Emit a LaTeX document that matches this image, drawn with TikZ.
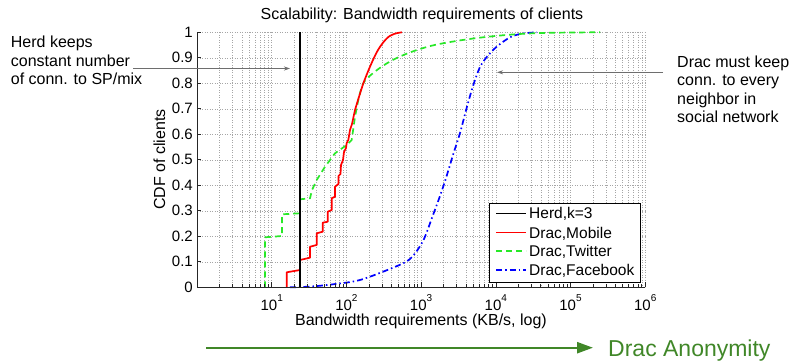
\documentclass[tikz,border=0pt]{standalone}
\usepackage{fontspec}
\setmainfont{Liberation Sans}
\usetikzlibrary{arrows.meta}
\definecolor{mgreen}{RGB}{40,232,40}
\definecolor{annogreen}{RGB}{64,135,40}
\definecolor{arrowgray}{RGB}{110,110,110}
\tikzset{
 gridline/.style={draw=gray!70, line width=0.5pt, dash pattern=on 0.6pt off 1.9pt},
 curve/.style={line width=1.7pt, line join=round},
 herdline/.style={curve, black},
 mobileline/.style={curve, red},
 twitterline/.style={curve, mgreen, dash pattern=on 6pt off 4pt},
 facebookline/.style={curve, blue, dash pattern=on 6pt off 3pt on 1.5pt off 3pt},
 legline/.style={line width=1.3pt},
 ticklab/.style={font=\fontsize{15}{18}\selectfont, inner sep=0},
 plotlab/.style={font=\fontsize{16}{19}\selectfont, inner sep=0},
 leglab/.style={font=\fontsize{15.5}{18}\selectfont, inner sep=0, anchor=base west},
 anno/.style={font=\fontsize{16}{18.7}\selectfont, align=left, inner sep=0, anchor=north west},
 pointer/.style={draw=arrowgray, line width=0.9pt, -{Stealth[length=6pt,width=4pt]}},
 axisline/.style={draw=black!85, line width=0.9pt},
}
\begin{document}
\begin{tikzpicture}[x=1pt,y=-1pt]
\useasboundingbox (0,0) rectangle (792,363);
% grid
\foreach \v in {1,...,10}
  \draw[gridline] (197,{287.3-25.5*\v}) -- (645,{287.3-25.5*\v});
\foreach \d in {0,...,5}
  \foreach \k in {1,...,9}
    \draw[gridline] ({197+74.7*(\d+log10(\k))},32.3) -- ++(0,255);
\draw[gridline] (645,32.3) -- (645,287.3);
% curves
\draw[facebookline] plot[smooth, tension=0.5] coordinates {(290,287.3) (310,286.6) (333,284.3) (360,280) (393,267.7) (410,259) (423,241) (433,215) (440,196) (446,178) (453,155) (460,133) (468,103) (474,83) (480,67) (487,56.7) (496.7,46.7) (510,37.3) (522,33.6) (537,32.3)};
\draw[twitterline] (265,287.3) -- (265,237.3) -- (282,236) -- (282,214.3) -- (300,213.3) -- (300,199.3) -- (310,198.3) -- (312,190) -- (316.7,180) -- (325,166.7) -- (335,153.3) -- (346.7,145) -- (351.7,140) -- (355,116.7)
  -- plot[smooth, tension=0.6] coordinates {(358.3,100) (363.3,83.3) (372,74) (385,64.5) (400,56.5) (420,49) (443,43.3) (483,37.3) (533,33.3) (600,32.3)};
\draw[mobileline] (286.7,287.3) -- (286.7,272.3) -- (300,270) -- (300,260) -- (310,257.7) -- (310,246.7) -- (316.7,245) -- (316.7,233.3) -- (322.7,231.7) -- (322.7,222.7) -- (327.7,221.7) -- (327.7,211.7) -- (331.7,210) -- (331.7,198.3) -- (335,196.7) -- (335,186.7) -- (338.5,184) -- (338.5,176) -- (340.5,174) -- (341,165) -- (343,160) -- (344,152) -- (346,148) -- (346.7,143) -- (348.3,140) -- (350,130) -- (352,124) -- (355,110) -- (358,100) -- (360.5,92)
  -- plot[smooth, tension=0.6] coordinates {(363.3,83.3) (370,66.7) (378,50) (386.7,38.5) (394,34) (402,32.3)};
\draw[herdline] (300,287.3) -- (300,32.3);
% axes
\draw[axisline] (197,32.3) -- (197,287.3) -- (645,287.3);
\foreach \v/\l in {0/0,1/0.1,2/0.2,3/0.3,4/0.4,5/0.5,6/0.6,7/0.7,8/0.8,9/0.9,10/1} {
  \draw[axisline, line width=0.6pt] (197,{287.3-25.5*\v}) -- ++(4,0);
  \node[ticklab, anchor=east] (yl\v) at (193,{287.3-25.5*\v}) {\l};
}
\foreach \d in {0,...,5}
  \foreach \k in {2,...,9}
    \draw[axisline, line width=0.6pt] ({197+74.7*(\d+log10(\k))},287.3) -- ++(0,-3);
\foreach \d in {0,...,6}
  \draw[axisline, line width=0.6pt] ({197+74.7*\d},287.3) -- ++(0,-5);
\foreach \d in {1,...,6}
  \node[ticklab, anchor=base] (xl\d) at ({197+74.7*\d},310) {10\raisebox{9pt}{\fontsize{10}{12}\selectfont\d}};
\node[plotlab, anchor=base] (title) at (422,20) {Scalability: Bandwidth requirements of clients};
\node[plotlab, anchor=base] (xlabel) at (421,325.5) {Bandwidth requirements (KB/s, log)};
\node[plotlab, anchor=base, rotate=90] (ylabel) at (165,159.6) {CDF of clients};
% legend
\node[draw=black, line width=0.8pt, fill=white, minimum width=150.7pt, minimum height=79pt, inner sep=0, anchor=north west] (legend) at (489.3,202.7) {};
\draw[legline, black] (496,213.3) -- (526,213.3);
\node[leglab] (lg1) at (529,218.9) {Herd,k=3};
\draw[legline, red] (496,232.7) -- (526,232.7);
\node[leglab] (lg2) at (529,238.3) {Drac,Mobile};
\draw[legline, mgreen, dash pattern=on 6pt off 4pt] (496,251) -- (526,251);
\node[leglab] (lg3) at (529,256.6) {Drac,Twitter};
\draw[legline, blue, dash pattern=on 6pt off 3pt on 1.5pt off 3pt] (496,270) -- (526,270);
\node[leglab] (lg4) at (529,275.6) {Drac,Facebook};
% annotations
\node[anno] (herdtext) at (10.7,35.8) {Herd keeps\\constant number\\of conn. to SP/mix};
\coordinate (herdstart) at (133,68.5);
\coordinate (herdtip) at (290,68.5);
\draw[pointer] (herdstart) -- (herdtip);
\node[anno, font=\fontsize{16}{18.3}\selectfont] (dractext) at (677,55.8) {Drac must keep\\conn. to every\\neighbor in\\social network};
\coordinate (dracstart) at (663,72.3);
\coordinate (dractip) at (497,72.3);
\draw[pointer] (dracstart) -- (dractip);
% bottom arrow
\coordinate (gstart) at (206,347.7);
\coordinate (gtip) at (593,347.7);
\draw[draw=annogreen, line width=2.4pt, -{Triangle[length=16pt,width=11pt]}] (gstart) -- (gtip);
\node[font=\fontsize{23}{27}\selectfont, text=annogreen, inner sep=0, anchor=base west] (anon) at (608,356.7) {Drac Anonymity};
\end{tikzpicture}
\end{document}
